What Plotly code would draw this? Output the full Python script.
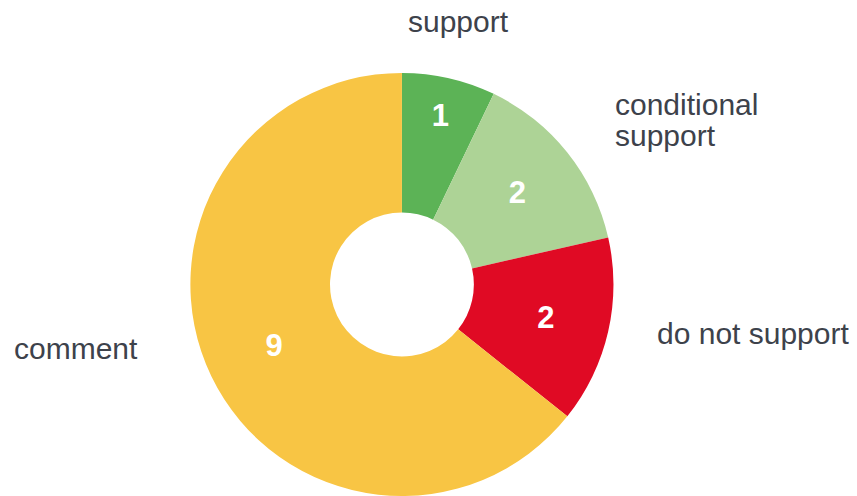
import plotly.graph_objects as go

categories = ["support", "conditional support", "do not support", "comment"]
values = [1, 2, 2, 9]
colors = ["#5cb356", "#add396", "#e00a24", "#f8c544"]

# outside label text (annotations)
label_texts = ["support", "conditional", "support", "do not support", "comment"]
label_x = [458, 613, 613, 655, 12]
label_y = [22, 104, 135, 333, 348]
label_anchor = ["center", "left", "left", "left", "left"]

W, H = 857, 496
fig = go.Figure()
fig.add_trace(go.Pie(
    labels=categories,
    values=values,
    sort=False,
    direction="clockwise",
    rotation=0,
    hole=0.34,
    marker=dict(colors=colors, line=dict(width=0)),
    textinfo="value",
    textposition="inside",
    insidetextorientation="horizontal",
    textfont=dict(family="Liberation Sans, Arial, sans-serif", size=31, color="white", weight="bold"),
    domain=dict(x=[0.222, 0.716], y=[0.0, 0.853]),
    showlegend=False,
    hoverinfo="label+value",
))

for t, x, y, a in zip(label_texts, label_x, label_y, label_anchor):
    fig.add_annotation(
        text=t, x=x / W, y=1 - y / H, xref="paper", yref="paper",
        xanchor=a, yanchor="middle", align="left", showarrow=False,
        font=dict(family="Liberation Sans, Arial, sans-serif", size=30, color="#3d424b"),
    )

fig.update_layout(
    width=W, height=H,
    margin=dict(l=0, r=0, t=0, b=0),
    paper_bgcolor="white",
    plot_bgcolor="white",
)
fig.write_html("out.html")
